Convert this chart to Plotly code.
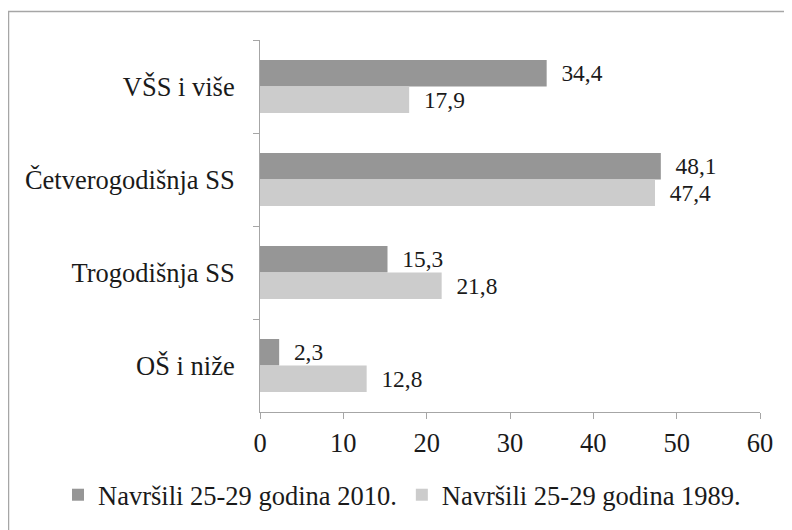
import plotly.graph_objects as go

categories = ["VŠS i više", "Četverogodišnja SS", "Trogodišnja SS", "OŠ i niže"]
series_2010_name = "Navršili 25-29 godina 2010."
series_1989_name = "Navršili 25-29 godina 1989."
values_2010 = [34.4, 48.1, 15.3, 2.3]
values_1989 = [17.9, 47.4, 21.8, 12.8]
x_ticks = [0, 10, 20, 30, 40, 50, 60]

FONT = '"Times New Roman", "Liberation Serif", Times, serif'
W, H = 792, 530
OFF = 8  # page body margin
# target plot area in page pixels: x 260..760, y 40..412
L, T = 260 - OFF, 40 - OFF
R = W - (760 - OFF)
B = H - (412 - OFF)
pw, ph = W - L - R, H - T - B
TXT = "#1a1a1a"
FS = 26.5

def px_x(p):
    return (p - OFF - L) / pw

def px_y(p):
    return (H - B - (p - OFF)) / ph

fig = go.Figure()
fig.add_trace(go.Bar(
    y=categories, x=values_2010, orientation="h", name=series_2010_name,
    marker=dict(color="#969696", line=dict(width=0)),
    texttemplate="\u00a0\u00a0%{x:.1f}", textposition="outside", cliponaxis=False,
    textfont=dict(family=FONT, size=FS, color=TXT),
))
fig.add_trace(go.Bar(
    y=categories, x=values_1989, orientation="h", name=series_1989_name,
    marker=dict(color="#cccccc", line=dict(width=0)),
    texttemplate="\u00a0\u00a0%{x:.1f}", textposition="outside", cliponaxis=False,
    textfont=dict(family=FONT, size=FS, color=TXT),
))

fig.update_layout(
    width=W, height=H,
    margin=dict(l=L, r=R, t=T, b=B, autoexpand=False),
    paper_bgcolor="white", plot_bgcolor="white",
    separators=", ",
    barmode="group", bargap=0.43, bargroupgap=0,
    font=dict(family=FONT, size=FS, color=TXT),
    xaxis=dict(range=[0, 60], tickvals=x_ticks, showgrid=False, zeroline=False,
               showline=True, linecolor="#a6a6a6", linewidth=1,
               ticks="outside", ticklen=6, tickcolor="#a6a6a6",
               ticklabelstandoff=1,
               tickfont=dict(family=FONT, size=FS, color=TXT)),
    yaxis=dict(autorange="reversed", showgrid=False, zeroline=False,
               showline=True, linecolor="#a6a6a6", linewidth=1,
               ticks="outside", ticklen=6, tickcolor="#a6a6a6",
               tickson="boundaries", ticklabelstandoff=19,
               tickfont=dict(family=FONT, size=FS, color=TXT)),
    legend=dict(orientation="h", x=px_x(58), xanchor="left", y=px_y(495), yanchor="middle",
                font=dict(family=FONT, size=FS, color=TXT),
                itemwidth=30, tracegroupgap=0, bgcolor="rgba(0,0,0,0)"),
    showlegend=True,
    shapes=[dict(type="rect", xref="paper", yref="paper",
                 x0=px_x(8.5), x1=px_x(830), y0=px_y(570), y1=px_y(11.5),
                 line=dict(color="#a6a6a6", width=1.5), layer="below")],
)

fig.write_html("out.html")
